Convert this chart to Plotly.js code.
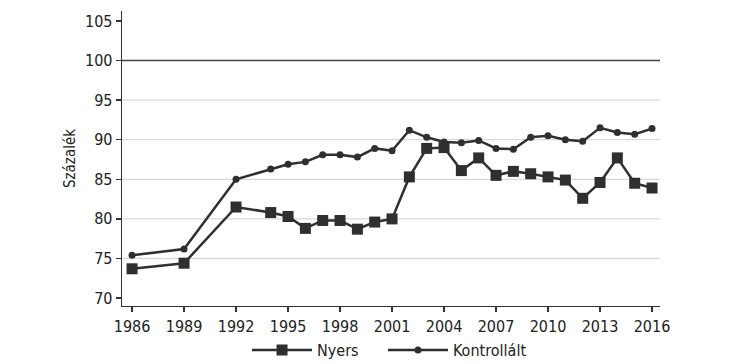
<!DOCTYPE html>
<html>
<head>
<meta charset="utf-8">
<script src="https://cdn.plot.ly/plotly-3.0.1.min.js"></script>
<style>html,body{margin:0;padding:0;background:#fff;}#chart{width:730px;height:364px;}</style>
</head>
<body>
<div id="chart"></div>
<script>
const years = [1986, 1989, 1992, 1994, 1995, 1996, 1997, 1998, 1999, 2000, 2001, 2002, 2003, 2004, 2005, 2006, 2007, 2008, 2009, 2010, 2011, 2012, 2013, 2014, 2015, 2016];
const nyers = [73.7, 74.4, 81.5, 80.8, 80.3, 78.8, 79.8, 79.8, 78.7, 79.6, 80.0, 85.3, 88.9, 89.0, 86.1, 87.7, 85.5, 86.0, 85.7, 85.3, 84.9, 82.6, 84.6, 87.7, 84.5, 83.9];
const kontrollalt = [75.4, 76.2, 85.0, 86.3, 86.9, 87.2, 88.1, 88.1, 87.8, 88.9, 88.6, 91.2, 90.3, 89.7, 89.6, 89.9, 88.9, 88.8, 90.3, 90.5, 90.0, 89.8, 91.5, 90.9, 90.7, 91.4];
const xTicks = [1986, 1989, 1992, 1995, 1998, 2001, 2004, 2007, 2010, 2013, 2016];
const yTicks = [70, 75, 80, 85, 90, 95, 100, 105];
const gridValues = [75, 80, 85, 90, 95];
const refValue = 100;

const font = "'DejaVu Sans Condensed', 'Liberation Sans Narrow', sans-serif";
const dark = '#2f2f2f';

const traces = [
  {x: years, y: nyers, name: 'Nyers', mode: 'lines+markers', legend: 'legend',
   line: {color: dark, width: 2.5}, marker: {symbol: 'square', size: 11, color: dark}},
  {x: years, y: kontrollalt, name: 'Kontrollált', mode: 'lines+markers', legend: 'legend2',
   line: {color: dark, width: 2.5}, marker: {symbol: 'circle', size: 7, color: dark}}
];

const shapes = gridValues.map(v => ({type: 'line', xref: 'paper', x0: 0, x1: 1, yref: 'y', y0: v, y1: v,
  line: {color: '#d9d9d9', width: 1.3}, layer: 'below'}));
shapes.push({type: 'line', xref: 'paper', x0: 0, x1: 1, yref: 'y', y0: refValue, y1: refValue,
  line: {color: '#444', width: 1.3}, layer: 'below'});

const legendBase = {orientation: 'h', xref: 'paper', xanchor: 'left', yref: 'container', y: 0.038, yanchor: 'middle',
  font: {family: font, size: 16, color: '#222'}, itemwidth: 60, bgcolor: 'rgba(0,0,0,0)'};

const layout = {
  width: 730, height: 364,
  margin: {l: 122, r: 70, t: 11, b: 58, autoexpand: false},
  paper_bgcolor: '#fff', plot_bgcolor: '#fff',
  font: {family: font, size: 16, color: '#222'},
  showlegend: true,
  legend: Object.assign({}, legendBase, {x: 0.2324}),
  legend2: Object.assign({}, legendBase, {x: 0.4851}),
  xaxis: {range: [1985.42, 2016.46], tickmode: 'array', tickvals: xTicks, ticktext: xTicks.map(String),
    showgrid: false, zeroline: false, showline: true, linecolor: '#333', linewidth: 1.3,
    ticks: 'outside', ticklen: 5, tickcolor: '#333', tickwidth: 1.3,
    tickfont: {family: font, size: 16, color: '#222'}},
  yaxis: {range: [69.0, 106.25], tickmode: 'array', tickvals: yTicks, ticktext: yTicks.map(String),
    showgrid: false, zeroline: false, showline: true, linecolor: '#333', linewidth: 1.3,
    ticks: 'outside', ticklen: 5, tickcolor: '#333', tickwidth: 1.3,
    tickfont: {family: font, size: 16, color: '#222'},
    title: {text: 'Százalék', font: {family: font, size: 15, color: '#222'}, standoff: 5}},
  shapes: shapes
};

Plotly.newPlot('chart', traces, layout, {displayModeBar: false, staticPlot: true});
</script>
</body>
</html>
